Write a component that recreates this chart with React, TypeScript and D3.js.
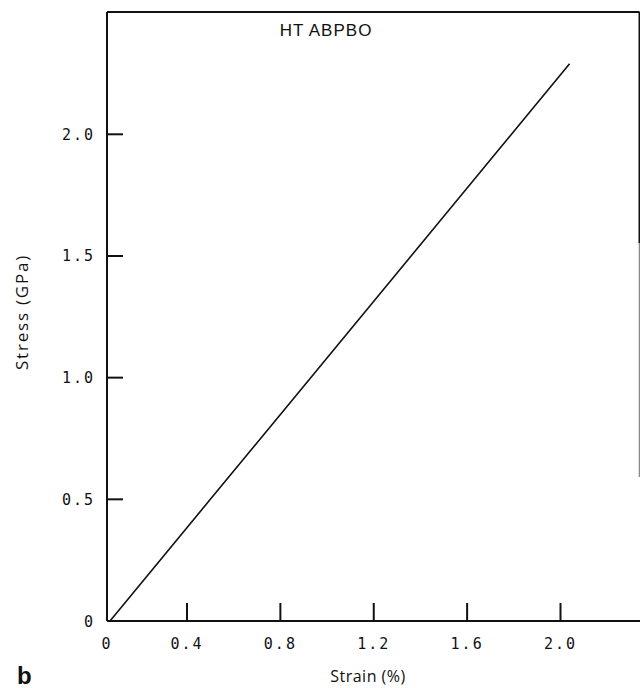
import React from "react";
import * as d3 from "d3";

const strain = [0.015, 0.5, 0.93, 1.36, 1.79, 2.04];
const stress = [0, 0.5, 1.0, 1.5, 2.0, 2.29];
const xTicks = [0, 0.4, 0.8, 1.2, 1.6, 2.0];
const xTickLabels = ["0", "0.4", "0.8", "1.2", "1.6", "2.0"];
const yTicks = [0, 0.5, 1.0, 1.5, 2.0];
const yTickLabels = ["0", "0.5", "1.0", "1.5", "2.0"];
const title = "HT ABPBO";
const xTitle = "Strain (%)";
const yTitle = "Stress (GPa)";
const panel = "b";

export default function App() {
  const left = 107;
  const right = 639.5;
  const top = 12;
  const bottom = 621;
  const x = d3.scaleLinear().domain([0, 0.4, 2.0, 2.35]).range([left, 187, 560.5, 640]);
  const y = d3.scaleLinear().domain([0, 2.0]).range([bottom, 134.3]);
  const pts = strain.map((s, i) => [s, stress[i]] as [number, number]);
  const line = d3.line<[number, number]>().x((d) => x(d[0])).y((d) => y(d[1]));
  const mono = "'DejaVu Sans Mono', monospace";
  const sans = "'Open Sans', 'Noto Sans', sans-serif";
  return (
    <svg width={640} height={688} style={{ position: "absolute", left: 0, top: 0, background: "#fff" }}>
      <rect x={0} y={0} width={640} height={688} fill="#fff" />
      <line x1={left} y1={top} x2={right} y2={top} stroke="#111" strokeWidth={2} />
      <line x1={left} y1={top} x2={left} y2={bottom} stroke="#111" strokeWidth={2} />
      <line x1={left} y1={bottom} x2={640} y2={bottom} stroke="#111" strokeWidth={2} />
      <line x1={right} y1={top} x2={right} y2={243} stroke="#111" strokeWidth={2} />
      <line x1={right} y1={243} x2={right} y2={477} stroke="#888" strokeWidth={1.5} />
      {xTicks.map((t, i) => (
        <g key={"xt" + i}>
          {t > 0 && <line x1={x(t)} y1={bottom} x2={x(t)} y2={bottom - 18} stroke="#111" strokeWidth={2} />}
          <text x={x(t)} y={649} textAnchor="middle" fontFamily={mono} fontSize={15} letterSpacing={2} fill="#111">
            {xTickLabels[i]}
          </text>
        </g>
      ))}
      {yTicks.map((t, i) => (
        <g key={"yt" + i}>
          {t > 0 && <line x1={left} y1={y(t)} x2={left + 16} y2={y(t)} stroke="#111" strokeWidth={2} />}
          <text x={95} y={y(t) + 5.5} textAnchor="end" fontFamily={mono} fontSize={15} letterSpacing={2} fill="#111">
            {yTickLabels[i]}
          </text>
        </g>
      ))}
      <path d={line(pts) || ""} fill="none" stroke="#111" strokeWidth={1.6} />
      <text x={326} y={36} textAnchor="middle" fontFamily="'Liberation Sans', Arial, sans-serif" fontSize={17} letterSpacing={1} fill="#111">
        {title}
      </text>
      <text x={368} y={682} textAnchor="middle" fontFamily={sans} fontSize={16} letterSpacing={0.5} fill="#111">
        {xTitle}
      </text>
      <text
        transform={`translate(28, 312) rotate(-90)`}
        textAnchor="middle"
        fontFamily={sans}
        fontSize={17}
        letterSpacing={1.8}
        fill="#111"
      >
        {yTitle}
      </text>
      <text x={17} y={684} fontFamily="'Liberation Sans', Arial, sans-serif" fontWeight="bold" fontSize={24} fill="#111">
        {panel}
      </text>
    </svg>
  );
}
